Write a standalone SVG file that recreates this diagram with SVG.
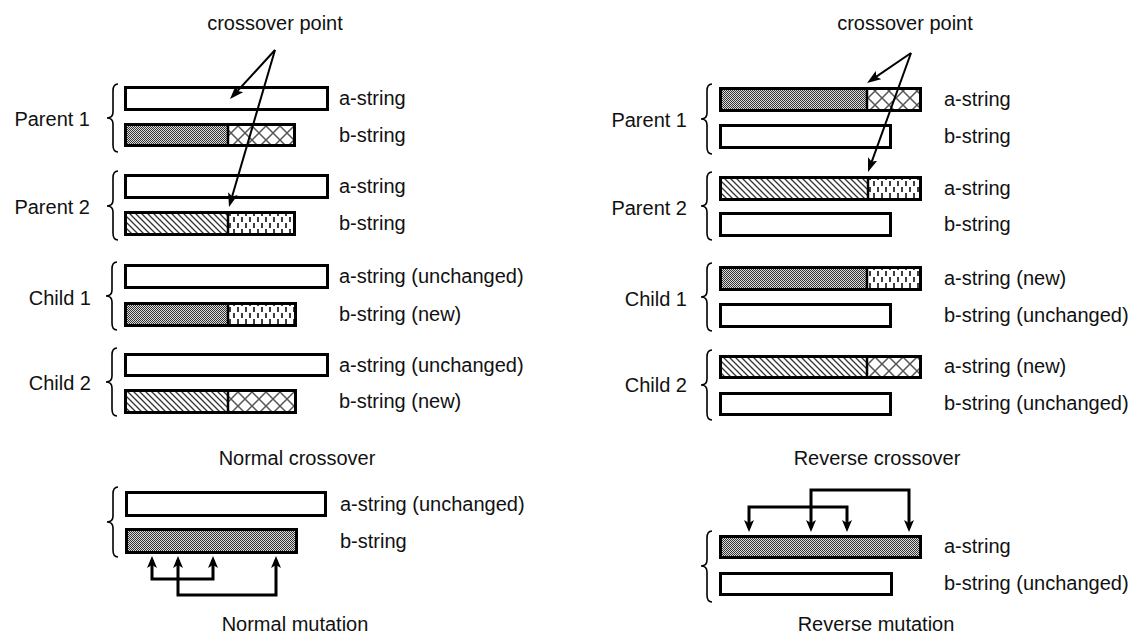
<svg xmlns="http://www.w3.org/2000/svg" width="1142" height="637" viewBox="0 0 1142 637">
<style>
text{font-family:"Liberation Sans",Arial,sans-serif;font-size:20px;fill:#111}
.lbl{text-anchor:end}
.mid{text-anchor:middle}
.bar{fill:none;stroke:#000;stroke-width:3}
.wbar{fill:#fff;stroke:#000;stroke-width:3}
.div{stroke:#000;stroke-width:2.5}
.brace{fill:none;stroke:#000;stroke-width:1.6}
.arr{fill:none;stroke:#000;stroke-width:2;marker-end:url(#ah)}
.mut{fill:none;stroke:#000;stroke-width:3;marker-start:url(#ah2);marker-end:url(#ah2)}
</style>
<defs>
<pattern id="dots" width="2" height="2" patternUnits="userSpaceOnUse"><rect width="2" height="2" fill="#dcdcdc"/><rect width="1" height="1" fill="#333"/><rect x="1" y="1" width="1" height="1" fill="#333"/></pattern>
<pattern id="diag" width="6" height="6" patternUnits="userSpaceOnUse"><rect width="6" height="6" fill="#fff"/><path d="M-1,-1 L7,7 M-1,5 L1,7 M5,-1 L7,1" stroke="#333" stroke-width="1.3"/></pattern>
<pattern id="cross" width="14" height="14" patternUnits="userSpaceOnUse"><rect width="14" height="14" fill="#fff"/><path d="M-2,-2 L16,16 M16,-2 L-2,16" stroke="#555" stroke-width="1.5"/></pattern>
<pattern id="dash" width="8" height="12" patternUnits="userSpaceOnUse"><rect width="8" height="12" fill="#fff"/><path d="M2,1 V6 M6,7 V12" stroke="#000" stroke-width="1.5"/></pattern>
<marker id="ah" viewBox="0 0 14 10" markerWidth="14" markerHeight="10" refX="9" refY="5" orient="auto" markerUnits="userSpaceOnUse"><path d="M0,0 L14,5 L0,10 L3,5 z" fill="#000"/></marker>
<marker id="ah2" viewBox="0 0 12 10" markerWidth="12" markerHeight="10" refX="8" refY="5" orient="auto-start-reverse" markerUnits="userSpaceOnUse"><path d="M0,0 L12,5 L0,10 L3,5 z" fill="#000"/></marker>
</defs>
<rect width="1142" height="637" fill="#fff"/>

<!-- Left: Normal crossover -->
<text class="mid" x="275" y="30">crossover point</text>

<g id="L-parent1">
<path class="brace" d="M118,84 Q113,84 113,91 L113,112 Q113,118 107,118 Q113,118 113,124 L113,145 Q113,152 118,152"/>
<text class="lbl" x="90" y="126">Parent 1</text>
<rect class="wbar" x="125.5" y="87.5" width="202" height="22"/>
<rect x="125" y="124" width="103" height="22" fill="url(#dots)"/>
<rect x="228" y="124" width="67" height="22" fill="url(#cross)"/>
<rect class="bar" x="125.5" y="124.5" width="169" height="21"/>
<line class="div" x1="228" y1="123" x2="228" y2="147"/>
<text x="339" y="105">a-string</text>
<text x="339" y="142">b-string</text>
</g>

<g id="L-parent2">
<path class="brace" d="M118,171 Q113,171 113,178 L113,200 Q113,206 107,206 Q113,206 113,212 L113,233 Q113,240 118,240"/>
<text class="lbl" x="90" y="214">Parent 2</text>
<rect class="wbar" x="125.5" y="175.5" width="202" height="22"/>
<rect x="125" y="212" width="103" height="23" fill="url(#diag)"/>
<rect x="228" y="212" width="67" height="23" fill="url(#dash)"/>
<rect class="bar" x="125.5" y="212.5" width="169" height="22"/>
<line class="div" x1="228" y1="211" x2="228" y2="236"/>
<text x="339" y="193">a-string</text>
<text x="339" y="230">b-string</text>
</g>

<g id="L-child1">
<path class="brace" d="M117,262 Q112,262 112,269 L112,290 Q112,296 106,296 Q112,296 112,302 L112,323 Q112,330 117,330"/>
<text class="lbl" x="91" y="305">Child 1</text>
<rect class="wbar" x="125.5" y="265.5" width="202" height="22"/>
<rect x="125" y="303" width="103" height="23" fill="url(#dots)"/>
<rect x="228" y="303" width="68" height="23" fill="url(#dash)"/>
<rect class="bar" x="125.5" y="303.5" width="170" height="22"/>
<line class="div" x1="228" y1="302" x2="228" y2="327"/>
<text x="339" y="283">a-string (unchanged)</text>
<text x="339" y="321">b-string (new)</text>
</g>

<g id="L-child2">
<path class="brace" d="M117,348 Q112,348 112,355 L112,376 Q112,382 106,382 Q112,382 112,388 L112,409 Q112,416 117,416"/>
<text class="lbl" x="91" y="390">Child 2</text>
<rect class="wbar" x="125.5" y="354.5" width="202" height="21"/>
<rect x="125" y="390" width="103" height="23" fill="url(#diag)"/>
<rect x="228" y="390" width="68" height="23" fill="url(#cross)"/>
<rect class="bar" x="125.5" y="390.5" width="170" height="22"/>
<line class="div" x1="228" y1="389" x2="228" y2="414"/>
<text x="339" y="372">a-string (unchanged)</text>
<text x="339" y="408">b-string (new)</text>
</g>

<text class="mid" x="297" y="465">Normal crossover</text>

<g id="L-mutation">
<path class="brace" d="M118,487 Q113,487 113,494 L113,516 Q113,522 107,522 Q113,522 113,528 L113,550 Q113,557 118,557"/>
<rect class="wbar" x="126.5" y="492.5" width="199" height="23"/>
<rect x="126" y="529" width="171" height="24" fill="url(#dots)"/>
<rect class="bar" x="126.5" y="529.5" width="170" height="23"/>
<text x="340" y="511">a-string (unchanged)</text>
<text x="340" y="548">b-string</text>
</g>

<text class="mid" x="295" y="631">Normal mutation</text>

<!-- Right: Reverse crossover -->
<text class="mid" x="905" y="30">crossover point</text>

<g id="R-parent1">
<path class="brace" d="M712,84 Q707,84 707,91 L707,113 Q707,119 701,119 Q707,119 707,125 L707,147 Q707,154 712,154"/>
<text class="lbl" x="687" y="127">Parent 1</text>
<rect x="720" y="88" width="147" height="24" fill="url(#dots)"/>
<rect x="867" y="88" width="54" height="24" fill="url(#cross)"/>
<rect class="bar" x="720.5" y="88.5" width="200" height="22"/>
<line class="div" x1="867" y1="87" x2="867" y2="112"/>
<rect class="wbar" x="720.5" y="125.5" width="170" height="22"/>
<text x="944" y="106">a-string</text>
<text x="944" y="143">b-string</text>
</g>

<g id="R-parent2">
<path class="brace" d="M712,172 Q707,172 707,179 L707,200 Q707,206 701,206 Q707,206 707,212 L707,233 Q707,240 712,240"/>
<text class="lbl" x="687" y="215">Parent 2</text>
<rect x="720" y="177" width="148" height="24" fill="url(#diag)"/>
<rect x="868" y="177" width="53" height="24" fill="url(#dash)"/>
<rect class="bar" x="720.5" y="177.5" width="200" height="22"/>
<line class="div" x1="868" y1="176" x2="868" y2="201"/>
<rect class="wbar" x="720.5" y="213.5" width="170" height="22"/>
<text x="944" y="195">a-string</text>
<text x="944" y="231">b-string</text>
</g>

<g id="R-child1">
<path class="brace" d="M712,263 Q707,263 707,270 L707,291 Q707,297 701,297 Q707,297 707,303 L707,324 Q707,331 712,331"/>
<text class="lbl" x="687" y="306">Child 1</text>
<rect x="720" y="267" width="147" height="24" fill="url(#dots)"/>
<rect x="867" y="267" width="54" height="24" fill="url(#dash)"/>
<rect class="bar" x="720.5" y="267.5" width="200" height="22"/>
<line class="div" x1="867" y1="266" x2="867" y2="291"/>
<rect class="wbar" x="720.5" y="304.5" width="170" height="22"/>
<text x="944" y="285">a-string (new)</text>
<text x="944" y="322">b-string (unchanged)</text>
</g>

<g id="R-child2">
<path class="brace" d="M712,350 Q707,350 707,357 L707,379 Q707,385 701,385 Q707,385 707,391 L707,413 Q707,420 712,420"/>
<text class="lbl" x="687" y="392">Child 2</text>
<rect x="720" y="356" width="147" height="22" fill="url(#diag)"/>
<rect x="867" y="356" width="54" height="22" fill="url(#cross)"/>
<rect class="bar" x="720.5" y="356.5" width="200" height="21"/>
<line class="div" x1="867" y1="355" x2="867" y2="379"/>
<rect class="wbar" x="720.5" y="393.5" width="170" height="21"/>
<text x="944" y="373">a-string (new)</text>
<text x="944" y="410">b-string (unchanged)</text>
</g>

<text class="mid" x="877" y="465">Reverse crossover</text>

<g id="R-mutation">
<path class="brace" d="M712,531 Q707,531 707,538 L707,560 Q707,566 701,566 Q707,566 707,572 L707,595 Q707,602 712,602"/>
<rect x="720" y="536" width="201" height="22" fill="url(#dots)"/>
<rect class="bar" x="720.5" y="536.5" width="200" height="21"/>
<rect class="wbar" x="720.5" y="573.5" width="171" height="21"/>
<text x="944" y="553">a-string</text>
<text x="944" y="590">b-string (unchanged)</text>
</g>

<text class="mid" x="876" y="631">Reverse mutation</text>

<g id="connectors">
<path class="arr" d="M275,50 L233.4,95.4"/>
<path class="arr" d="M275,50 L230.4,202.2"/>
<path class="arr" d="M911,53 L871.2,80.1"/>
<path class="arr" d="M911,53 L869.7,167.3"/>
<path class="mut" d="M152,560 V579 H213 V560"/>
<path class="mut" d="M178,560 V595 H276 V560"/>
<path class="mut" d="M749,528 V507 H847 V528"/>
<path class="mut" d="M811,528 V490 H909 V528"/>
</g>
</svg>
